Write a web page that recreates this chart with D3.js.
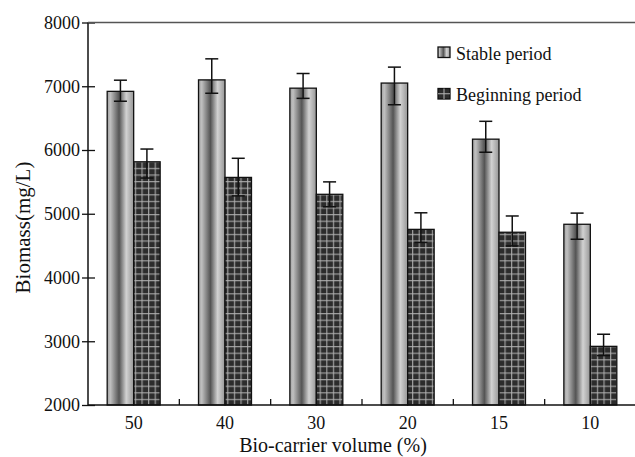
<!DOCTYPE html>
<html><head><meta charset="utf-8">
<script src="https://cdn.jsdelivr.net/npm/d3@7"></script>
<style>
html,body{margin:0;padding:0;background:#fff;}
svg text{font-family:"Liberation Serif","Times New Roman",serif;fill:#111;}
</style></head>
<body><svg id="c" width="635" height="457"></svg>
<script>
const categories = ["50","40","30","20","15","10"];
const seriesNames = ["Stable period","Beginning period"];
const stable = [6920, 7100, 6970, 7050, 6170, 4835];
const stableHi = [7095, 7430, 7200, 7300, 6450, 5010];
const stableLo = [6765, 6890, 6810, 6710, 5965, 4600];
const begin = [5815, 5570, 5305, 4755, 4710, 2920];
const beginHi = [6015, 5870, 5500, 5015, 4965, 3110];
const beginLo = [5560, 5280, 5110, 4550, 4495, 2775];
const yTicks = [2000, 3000, 4000, 5000, 6000, 7000, 8000];

const svg = d3.select("#c");
const L = 88, R = 636, T = 22.5, B = 405;
const x = d3.scaleBand().domain(categories).range([L, R]).padding(0);
const y = d3.scaleLinear().domain([2000, 8000]).range([B, T]);
const bw = x.bandwidth();
const barW = bw * 0.29;

const defs = svg.append("defs");
const g = defs.append("linearGradient").attr("id","cyl").attr("x1","0").attr("x2","1").attr("y1","0").attr("y2","0");
[[0,"#a0a0a0"],[0.12,"#c0c0c0"],[0.45,"#545454"],[0.72,"#d2d2d2"],[1,"#969696"]].forEach(s=>
  g.append("stop").attr("offset",s[0]).attr("stop-color",s[1]));
const p = defs.append("pattern").attr("id","grid").attr("patternUnits","userSpaceOnUse")
  .attr("width",6.6).attr("height",6.6).attr("x",0).attr("y",0);
p.append("rect").attr("width",6.6).attr("height",6.6).attr("fill","#2c2c2c");
p.append("rect").attr("x",3).attr("y",0).attr("width",1).attr("height",6.6).attr("fill","#b4b4b4");
p.append("rect").attr("x",0).attr("y",3).attr("width",6.6).attr("height",1).attr("fill","#b4b4b4");

// bars
const cx = d => x(d) + bw/2;
svg.append("g").selectAll("rect").data(categories).join("rect")
  .attr("x", d => cx(d) - barW).attr("width", barW)
  .attr("y", (d,i) => y(stable[i])).attr("height", (d,i) => B - y(stable[i]))
  .attr("fill","url(#cyl)").attr("stroke","#111").attr("stroke-width",1.3);
svg.append("g").selectAll("rect").data(categories).join("rect")
  .attr("x", d => cx(d)).attr("width", barW)
  .attr("y", (d,i) => y(begin[i])).attr("height", (d,i) => B - y(begin[i]))
  .attr("fill","url(#grid)").attr("stroke","#111").attr("stroke-width",1.3);

// error bars
function errBars(off, hi, lo){
  const eg = svg.append("g").attr("stroke","#111").attr("stroke-width",1.5).attr("fill","none");
  categories.forEach((d,i)=>{
    const xc = cx(d) + off;
    eg.append("line").attr("x1",xc).attr("x2",xc).attr("y1",y(hi[i])).attr("y2",y(lo[i]));
    eg.append("line").attr("x1",xc-6.5).attr("x2",xc+6.5).attr("y1",y(hi[i])).attr("y2",y(hi[i]));
    eg.append("line").attr("x1",xc-6.5).attr("x2",xc+6.5).attr("y1",y(lo[i])).attr("y2",y(lo[i]));
  });
}
errBars(-barW/2, stableHi, stableLo);
errBars(barW/2, beginHi, beginLo);

// axes
const yAx = svg.append("g").attr("transform",`translate(${L},0)`)
  .call(d3.axisLeft(y).tickValues(yTicks).tickFormat(d3.format("d")).tickSize(6).tickPadding(2));
yAx.select(".domain").remove();
yAx.selectAll(".tick line").attr("stroke","#111").attr("stroke-width",1.3);
yAx.selectAll("text").attr("font-size",18).style("font-family",'"Liberation Serif",serif').attr("fill","#111");
const yIn = svg.append("g").attr("transform",`translate(${L},0)`)
  .call(d3.axisRight(y).tickValues(yTicks).tickSize(7).tickFormat(""));
yIn.select(".domain").remove();
yIn.selectAll(".tick line").attr("stroke","#111").attr("stroke-width",1.3);

const xAx = svg.append("g").attr("transform",`translate(0,${B})`)
  .call(d3.axisBottom(x).tickSize(0).tickPadding(11));
xAx.select(".domain").remove();
xAx.selectAll("text").attr("font-size",18).style("font-family",'"Liberation Serif",serif').attr("fill","#111");

// minor boundary ticks
svg.append("g").selectAll("line").data(categories.slice(1)).join("line")
  .attr("x1", d => x(d)).attr("x2", d => x(d)).attr("y1", B).attr("y2", B-6)
  .attr("stroke","#111").attr("stroke-width",1.3);

// frame lines
svg.append("line").attr("x1",L).attr("x2",R).attr("y1",B).attr("y2",B).attr("stroke","#111").attr("stroke-width",1.5);
svg.append("line").attr("x1",L).attr("x2",L).attr("y1",T).attr("y2",B).attr("stroke","#111").attr("stroke-width",1.5);
svg.append("line").attr("x1",L).attr("x2",R).attr("y1",T).attr("y2",T).attr("stroke","#555").attr("stroke-width",1.5);

// titles
svg.append("text").attr("x",333).attr("y",452).attr("text-anchor","middle").attr("font-size",20)
  .text("Bio-carrier volume (%)");
svg.append("text").attr("transform","translate(30,227.5) rotate(-90)").attr("text-anchor","middle").attr("font-size",21)
  .text("Biomass(mg/L)");

// legend
const lg = svg.append("g");
seriesNames.forEach((n,i)=>{
  const ly = 47 + i*41.5;
  if(i===0){
    lg.append("rect").attr("x",438).attr("y",ly).attr("width",12).attr("height",10.5)
      .attr("fill","url(#cyl)").attr("stroke","#111").attr("stroke-width",1.3);
  } else {
    lg.append("rect").attr("x",438).attr("y",ly).attr("width",12).attr("height",10.5)
      .attr("fill","#2c2c2c").attr("stroke","#111").attr("stroke-width",1.3);
    lg.append("line").attr("x1",444).attr("x2",444).attr("y1",ly).attr("y2",ly+10.5).attr("stroke","#b4b4b4").attr("stroke-width",1);
    lg.append("line").attr("x1",438).attr("x2",450).attr("y1",ly+5.25).attr("y2",ly+5.25).attr("stroke","#b4b4b4").attr("stroke-width",1);
  }
  lg.append("text").attr("x",456).attr("y",ly+12.5).attr("font-size",18).text(n);
});
</script></body></html>
